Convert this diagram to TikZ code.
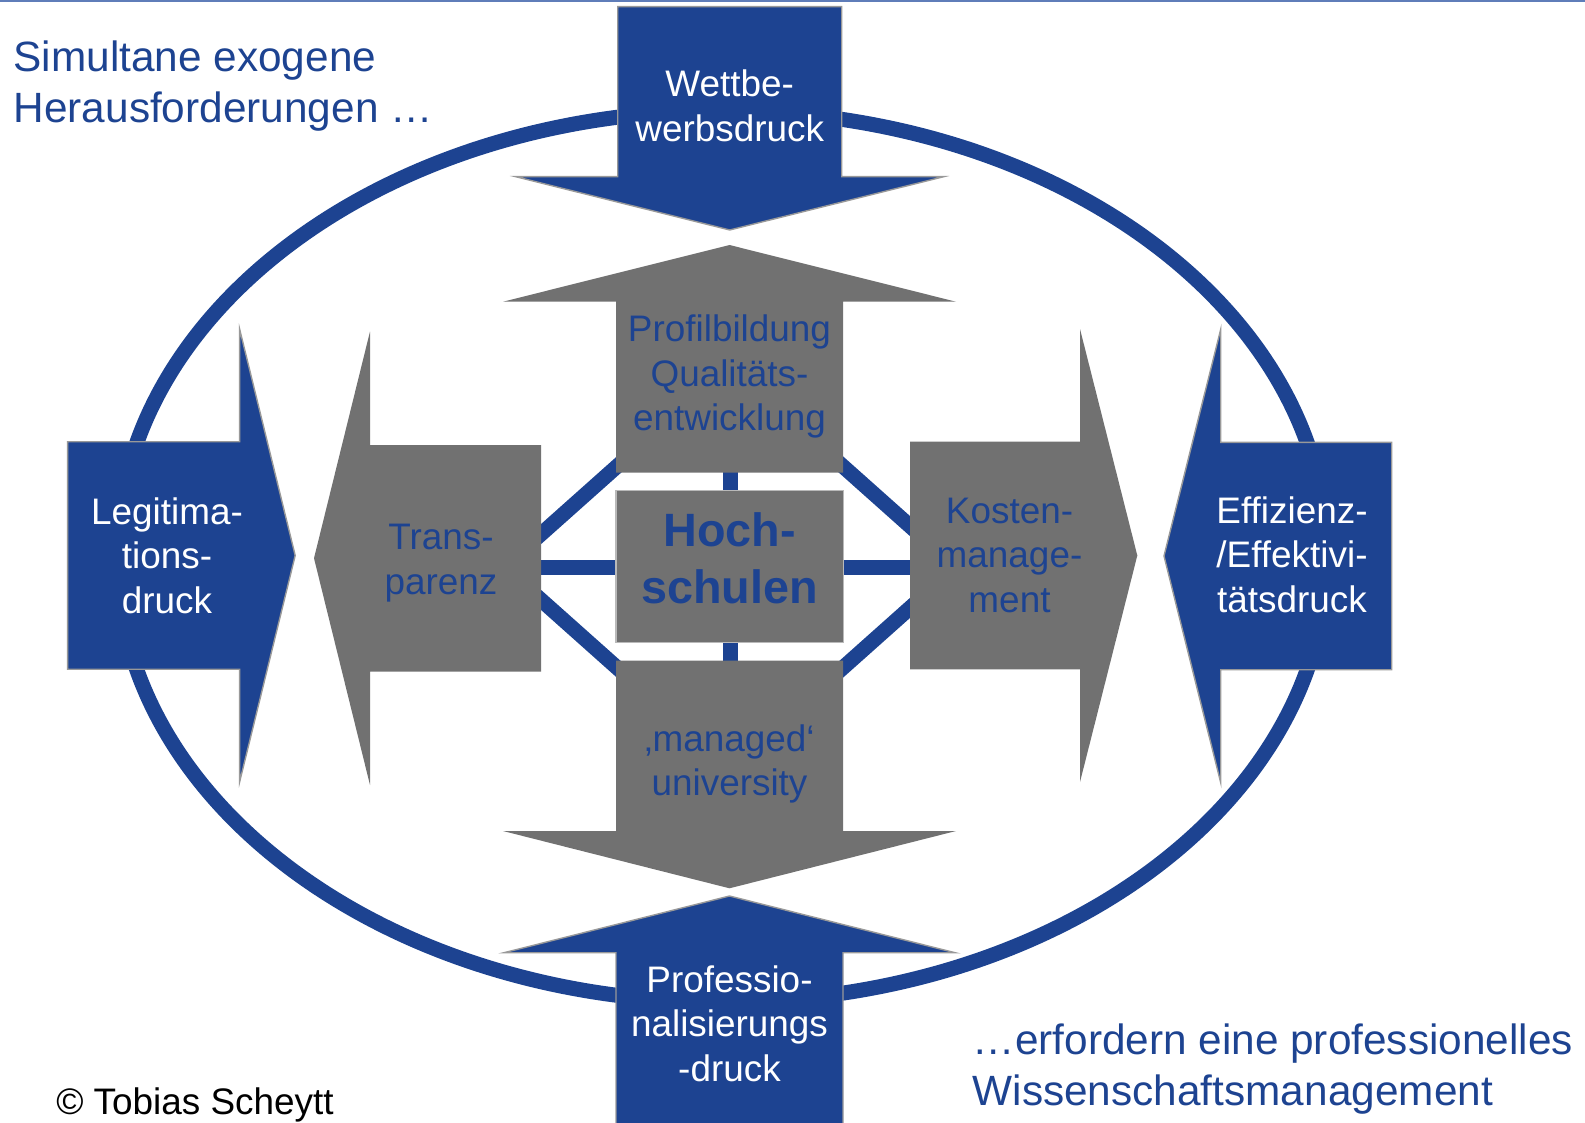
\documentclass[tikz,border=0pt]{standalone}
\usepackage{fontspec}
\setmainfont{Liberation Sans}
\usetikzlibrary{shapes.geometric}

\definecolor{hsblue}{RGB}{29,67,145}
\definecolor{hsgray}{RGB}{113,113,113}
\definecolor{toprule}{RGB}{95,125,185}

\tikzstyle{bluearrow} = [fill=hsblue, draw=gray!80, line width=0.4pt]
\tikzstyle{grayarrow} = [fill=hsgray]
\tikzstyle{presstext} = [text=white, align=center, inner sep=0pt, font=\fontsize{10.5}{12.67}\selectfont]
\tikzstyle{reacttext} = [text=hsblue, align=center, inner sep=0pt, font=\fontsize{10.5}{12.67}\selectfont]
\tikzstyle{core} = [rectangle, fill=hsgray, draw=gray!55, line width=0.4pt, minimum width=2.273cm, minimum height=1.516cm, inner sep=0pt, text=hsblue, align=center, font=\bfseries\fontsize{13.3}{16.3}\selectfont]
\tikzstyle{link} = [draw=hsblue, line width=0.15cm]
\tikzstyle{notetext} = [text=hsblue, align=left, inner sep=0pt, anchor=north west, font=\fontsize{12.05}{14.5}\selectfont]

% block arrow: style, tail, direction, shaft length, head length, half shaft, half head
\newcommand{\blockarrow}[7]{%
  \path[#1, shift={#2}, rotate=#3] (0,-#6) -- (#4,-#6) -- (#4,-#7) -- ({#4+#5},0) -- (#4,#7) -- (#4,#6) -- (0,#6) -- cycle;}

\begin{document}
\begin{tikzpicture}
\useasboundingbox (0,0) rectangle (15.85,11.22);
\draw [toprule, line width=0.02cm] (0,11.21) -- (15.85,11.21);

% outer ring
\draw [hsblue, line width=0.15cm] (7.22,5.657) ellipse [x radius=6.05, y radius=4.457];

% links round the Hochschulen
\node (ring) [diamond, link, minimum width=4.58cm, minimum height=4.09cm, inner sep=0pt] at (7.30,5.55) {};
\draw [link] (ring.west) -- (ring.east);
\draw [link] (ring.north) -- (ring.south);

% pressures (blue) and answers (gray)
\blockarrow{bluearrow}{(7.297,11.153)}{-90}{1.70}{0.533}{1.12}{2.14}
\blockarrow{grayarrow}{(7.295,6.493)}{90}{1.71}{0.567}{1.135}{2.265}
\blockarrow{grayarrow}{(7.295,4.613)}{-90}{1.703}{0.573}{1.135}{2.265}
\blockarrow{bluearrow}{(7.295,-0.05)}{90}{1.743}{0.567}{1.135}{2.255}
\blockarrow{bluearrow}{(0.677,5.665)}{0}{1.719}{0.556}{1.1375}{2.265}
\blockarrow{grayarrow}{(5.41,5.6375)}{180}{1.71}{0.56}{1.1325}{2.2675}
\blockarrow{grayarrow}{(9.10,5.665)}{0}{1.70}{0.573}{1.138}{2.265}
\blockarrow{bluearrow}{(13.917,5.66)}{180}{1.71}{0.567}{1.137}{2.267}

\node (hoch) [core] at (7.296,5.555) {Hoch-\\schulen\strut};

\node (wett) [presstext] at (7.297,10.16) {Wettbe-\\werbsdruck};
\node (profil) [reacttext] at (7.295,7.452) {Profilbildung\\Qualitäts-\\entwicklung};
\node (managed) [reacttext] at (7.295,3.58) {‚managed‘\\university};
\node (prof) [presstext] at (7.295,0.985) {Professio-\\nalisierungs\\-druck};
\node (legit) [presstext] at (1.67,5.666) {Legitima-\\tions-\\druck};
\node (trans) [reacttext] at (4.41,5.589) {Trans-\\parenz};
\node (kosten) [reacttext] at (10.095,5.666) {Kosten-\\manage-\\ment};
\node (effiz) [presstext] at (12.92,5.672) {Effizienz-\\/Effektivi-\\tätsdruck};

\node (intro) [notetext] at (0.13,10.82) {Simultane exogene\\Herausforderungen …};
\node (outro) [notetext] at (9.72,0.99) {…erfordern eine professionelles\\Wissenschaftsmanagement};
\node (copy) [anchor=base west, inner sep=0pt, font=\fontsize{10.5}{12}\selectfont] at (0.556,0.08) {© Tobias Scheytt};
\end{tikzpicture}
\end{document}
